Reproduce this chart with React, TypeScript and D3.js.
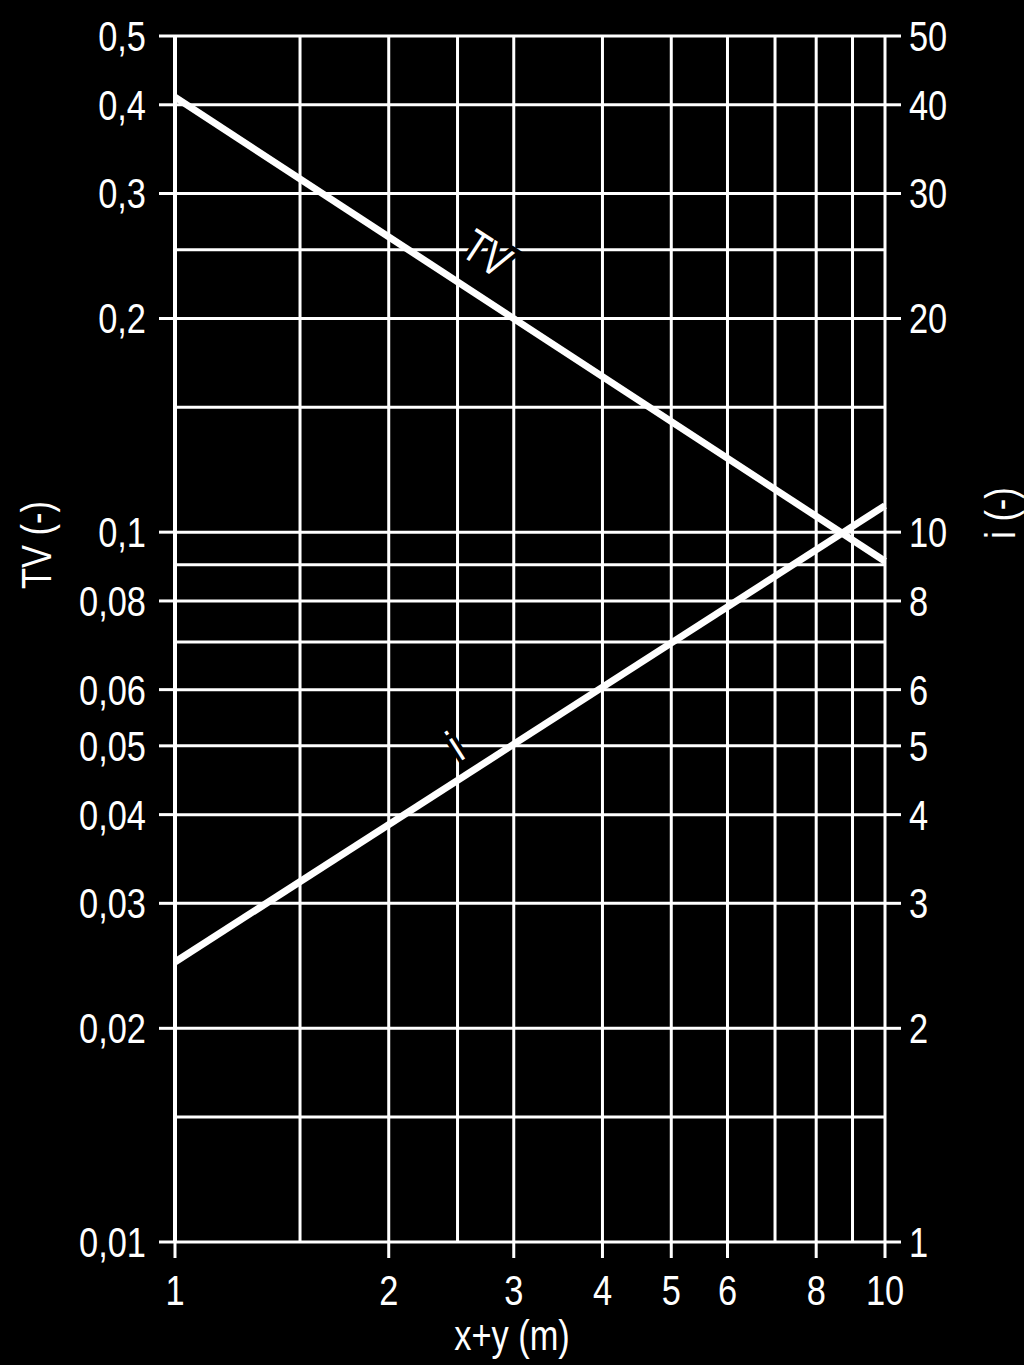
import React from 'react';
import * as d3 from 'd3';

const xTickValues = [1, 2, 3, 4, 5, 6, 8, 10];
const xTickLabels = ['1', '2', '3', '4', '5', '6', '8', '10'];
const xGridValues = [1, 1.5, 2, 2.5, 3, 4, 5, 6, 7, 8, 9, 10];

const tvTickValues = [0.5, 0.4, 0.3, 0.2, 0.1, 0.08, 0.06, 0.05, 0.04, 0.03, 0.02, 0.01];
const tvTickLabels = ['0,5', '0,4', '0,3', '0,2', '0,1', '0,08', '0,06', '0,05', '0,04', '0,03', '0,02', '0,01'];
const tvGridValues = [0.5, 0.4, 0.3, 0.25, 0.2, 0.15, 0.1, 0.09, 0.08, 0.07, 0.06, 0.05, 0.04, 0.03, 0.02, 0.015, 0.01];

const iTickValues = [50, 40, 30, 20, 10, 8, 6, 5, 4, 3, 2, 1];
const iTickLabels = ['50', '40', '30', '20', '10', '8', '6', '5', '4', '3', '2', '1'];

const tvX = [1, 10];
const tvY = [0.41, 0.091];
const iX = [1, 10];
const iY = [2.48, 10.9];

const tvLabelPos = [2.75, 0.247];
const iLabelPos = [2.48, 5.0];

const FONT = "'Liberation Sans', Arial, sans-serif";
const SX = 0.8;

function T({ x, y, anchor = 'start', size = 43, rotate = 0, children, halo = false }: any) {
  return (
    <text
      transform={`translate(${x},${y}) rotate(${rotate}) scale(${SX},1)`}
      textAnchor={anchor}
      dominantBaseline="central"
      fontFamily={FONT}
      fontSize={size}
      fill="#fff"
      stroke={halo ? '#000' : 'none'}
      strokeWidth={halo ? 10 : 0}
      paintOrder="stroke"
    >
      {children}
    </text>
  );
}

export default function App() {
  const W = 1024, H = 1365;
  const x = d3.scaleLog().domain([1, 10]).range([175, 885]);
  const y = d3.scaleLog().domain([0.01, 0.5]).range([1242, 36]);
  const yi = d3.scaleLog().domain([1, 50]).range([1242, 36]);

  const tvLine = d3.line<number>().x((_, k) => x(tvX[k])).y((d) => y(d));
  const iLine = d3.line<number>().x((_, k) => x(iX[k])).y((d) => yi(d));

  const tvAngle = (Math.atan2(y(tvY[1]) - y(tvY[0]), x(tvX[1]) - x(tvX[0])) * 180) / Math.PI;
  const iAngle = (Math.atan2(yi(iY[1]) - yi(iY[0]), x(iX[1]) - x(iX[0])) * 180) / Math.PI;

  return (
    <svg width={W} height={H} style={{ position: 'absolute', left: 0, top: 0, background: '#000' }}>
      <rect x={0} y={0} width={W} height={H} fill="#000" />
      {/* grid */}
      {xGridValues.map((v) => (
        <line key={'vx' + v} x1={x(v)} x2={x(v)} y1={y(0.5)} y2={y(0.01)} stroke="#fff" strokeWidth={v === 1 ? 4 : 3} />
      ))}
      {tvGridValues.map((v) => (
        <line key={'hy' + v} x1={x(1)} x2={x(10)} y1={y(v)} y2={y(v)} stroke="#fff" strokeWidth={3} />
      ))}
      {/* ticks */}
      {tvTickValues.map((v) => (
        <line key={'tl' + v} x1={x(1) - 16} x2={x(1)} y1={y(v)} y2={y(v)} stroke="#fff" strokeWidth={3} />
      ))}
      {iTickValues.map((v) => (
        <line key={'tr' + v} x1={x(10)} x2={x(10) + 16} y1={yi(v)} y2={yi(v)} stroke="#fff" strokeWidth={3} />
      ))}
      {xTickValues.map((v) => (
        <line key={'tb' + v} x1={x(v)} x2={x(v)} y1={y(0.01)} y2={y(0.01) + 16} stroke="#fff" strokeWidth={3} />
      ))}
      {/* tick labels */}
      {tvTickValues.map((v, k) => (
        <T key={'ll' + v} x={x(1) - 29} y={y(v)} anchor="end">{tvTickLabels[k]}</T>
      ))}
      {iTickValues.map((v, k) => (
        <T key={'rl' + v} x={x(10) + 24} y={yi(v)} anchor="start">{iTickLabels[k]}</T>
      ))}
      {xTickValues.map((v, k) => (
        <T key={'bl' + v} x={x(v)} y={y(0.01) + 48} anchor="middle">{xTickLabels[k]}</T>
      ))}
      {/* axis titles */}
      <T x={512} y={1335} anchor="middle">x+y (m)</T>
      <T x={36} y={545} anchor="middle" rotate={-90}>TV (-)</T>
      <T x={1000} y={513} anchor="middle" rotate={-90}>i (-)</T>
      {/* data lines */}
      <path d={tvLine(tvY) || ''} stroke="#fff" strokeWidth={7} fill="none" />
      <path d={iLine(iY) || ''} stroke="#fff" strokeWidth={7} fill="none" />
      {/* line labels */}
      <T x={x(tvLabelPos[0])} y={y(tvLabelPos[1])} anchor="middle" size={46} rotate={tvAngle} halo>TV</T>
      <T x={x(iLabelPos[0])} y={yi(iLabelPos[1])} anchor="middle" size={46} rotate={iAngle} halo>i</T>
    </svg>
  );
}
